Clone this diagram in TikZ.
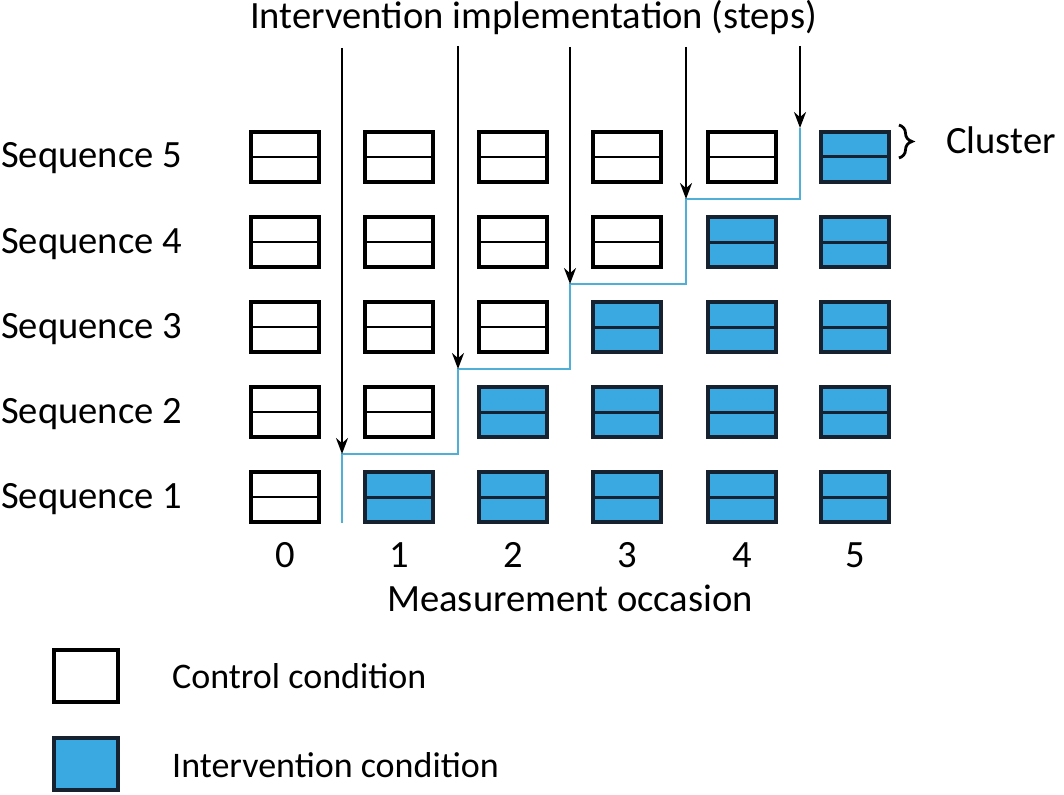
\documentclass[tikz,border=0pt]{standalone}
\usepackage{fontspec}
\setmainfont{Carlito}
\usetikzlibrary{arrows.meta,decorations.pathreplacing}
\definecolor{cellblue}{RGB}{59,169,225}
\definecolor{celledge}{RGB}{22,34,48}
\definecolor{stepblue}{RGB}{80,175,215}
\tikzset{
  ctrl/.style={draw=black, line width=3.2pt, fill=white, minimum width=68pt, minimum height=50pt, inner sep=0pt, rectangle},
  intv/.style={ctrl, draw=celledge, fill=cellblue},
  lbl/.style={font=\fontsize{38.6}{42}\selectfont, inner sep=0pt},
  leglbl/.style={font=\fontsize{36}{40}\selectfont, inner sep=0pt},
  implarrow/.style={draw=black, line width=2.4pt, -{Stealth[length=16pt,width=12pt]}},
  stepline/.style={draw=stepblue, line width=2.8pt},
}
\begin{document}
\begin{tikzpicture}[x=1pt,y=-1pt]
\useasboundingbox[fill=white] (0,0) rectangle (1064,794);
% title
\node[lbl, anchor=base west] (title) at (250,29) {Intervention implementation (steps)};
% grid of cells
\foreach \r/\y in {1/497,2/412,3/327,4/242,5/157}{
  \node[lbl, anchor=base west] (seq\r) at (1,\y+11) {Sequence \r};
  \foreach \c/\x in {0/285,1/399,2/513,3/627,4/742,5/855}{
    \pgfmathtruncatemacro{\isint}{\c>=\r ? 1 : 0}
    \ifnum\isint=1
      \node[intv] (b\r\c) at (\x,\y) {};
      \draw[celledge, line width=3pt] (b\r\c.west) -- (b\r\c.east);
    \else
      \node[ctrl] (b\r\c) at (\x,\y) {};
      \draw[black, line width=2.6pt] (b\r\c.west) -- (b\r\c.east);
    \fi
  }
}
% column numbers
\foreach \c/\x in {0/285,1/399,2/513,3/627,4/742,5/855}{
  \node[lbl, anchor=base] (n\c) at (\x,567) {\c};
}
\node[lbl, anchor=base] (xlab) at (570,611) {Measurement occasion};
% step coordinates
\coordinate (base) at (342,523);
\coordinate (s1) at (342,454);
\coordinate (s2) at (458,369);
\coordinate (s3) at (570,284);
\coordinate (s4) at (686,199);
\coordinate (s5) at (800,128);
\coordinate (t1) at (342,48);
\coordinate (t2) at (458,46);
\coordinate (t3) at (570,47);
\coordinate (t4) at (686,47);
\coordinate (t5) at (800,46);
% blue step line
\draw[stepline] (base) -- (s1) -| (s2) -| (s3) -| (s4) -| (s5);
% implementation arrows
\foreach \i in {1,...,5}{
  \draw[implarrow] (t\i) -- (s\i);
}
% cluster brace
\coordinate (br1) at (899,125);
\coordinate (br2) at (899,158);
\draw[black, line width=2.8pt, decorate, decoration={brace, amplitude=13pt, aspect=0.5}] (br1) -- (br2);
\node[lbl, anchor=base west] (cluster) at (946,154) {Cluster};
% legend
\node[ctrl, minimum width=64pt, minimum height=52pt] (legC) at (86,676) {};
\node[intv, minimum width=64pt, minimum height=52pt] (legI) at (86,764) {};
\node[leglbl, anchor=base west] (legCt) at (172,688) {Control condition};
\node[leglbl, anchor=base west] (legIt) at (172,777) {Intervention condition};
\end{tikzpicture}
\end{document}
